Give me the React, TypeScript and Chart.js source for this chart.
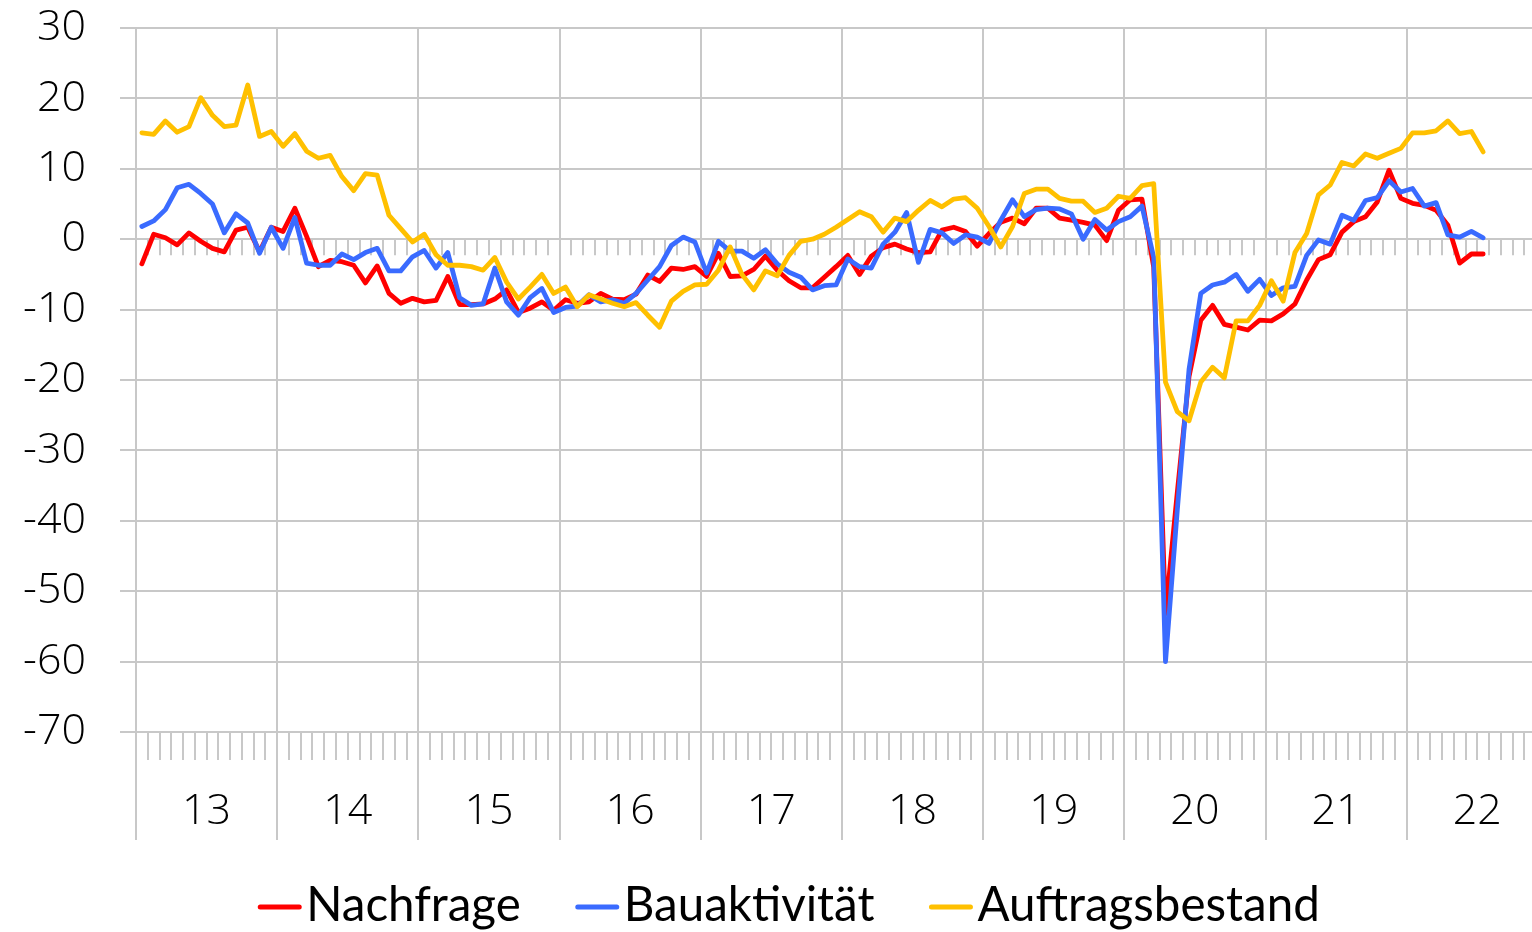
import React, { useEffect, useRef } from 'react';
import { Chart, registerables } from 'chart.js';

Chart.register(...registerables);

// Year labels on the x axis (2013 .. 2022)
const yearLabels = ['13', '14', '15', '16', '17', '18', '19', '20', '21', '22'];

// Monthly values, Jan 2013 .. Jul 2022
const nachfrage = [
  -3.5, 0.7, 0.2, -0.8, 0.9, -0.3, -1.3, -1.8, 1.3, 1.7, -1.8, 1.7,
  1.1, 4.4, 0.4, -3.9, -3.0, -3.2, -3.7, -6.2, -3.8, -7.7, -9.1, -8.4,
  -8.9, -8.7, -5.3, -9.3, -9.3, -9.2, -8.5, -7.2, -10.4, -9.8, -8.9, -10.1,
  -8.6, -9.1, -8.9, -7.7, -8.5, -8.6, -7.8, -5.1, -6.0, -4.1, -4.3, -3.9,
  -5.3, -2.0, -5.3, -5.2, -4.3, -2.4, -4.4, -5.9, -6.9, -6.9, -5.4, -3.9,
  -2.3, -5.0, -2.4, -1.2, -0.7, -1.4, -1.9, -1.8, 1.3, 1.7, 1.1, -1.0,
  0.8, 2.4, 3.0, 2.2, 4.4, 4.4, 3.0, 2.7, 2.4, 2.0, -0.2, 4.1,
  5.6, 5.7, -4.0, -53.2, -36.0, -19.5, -11.5, -9.4, -12.1, -12.5, -12.9, -11.5,
  -11.6, -10.6, -9.2, -5.8, -2.9, -2.2, 1.0, 2.5, 3.2, 5.3, 9.8, 5.8,
  5.1, 4.8, 4.1, 2.0, -3.4, -2.1, -2.1,
];

const bauaktivitaet = [
  1.8, 2.6, 4.2, 7.3, 7.8, 6.5, 5.0, 0.9, 3.6, 2.3, -2.0, 1.7,
  -1.3, 3.1, -3.4, -3.7, -3.7, -2.1, -2.9, -1.9, -1.3, -4.5, -4.5, -2.5,
  -1.6, -4.1, -1.9, -8.3, -9.4, -9.2, -4.1, -8.9, -10.8, -8.3, -7.0, -10.4,
  -9.7, -9.5, -7.9, -8.9, -8.6, -9.1, -7.7, -5.8, -3.9, -0.9, 0.3, -0.4,
  -4.8, -0.3, -1.7, -1.7, -2.7, -1.5, -3.5, -4.7, -5.4, -7.2, -6.6, -6.5,
  -2.8, -3.9, -4.1, -0.7, 1.0, 3.8, -3.3, 1.4, 0.9, -0.6, 0.6, 0.3,
  -0.6, 2.7, 5.6, 3.2, 4.2, 4.4, 4.3, 3.6, 0.0, 2.8, 1.3, 2.5,
  3.2, 4.7, -2.6, -60.0, -38.5, -18.5, -7.7, -6.5, -6.1, -5.0, -7.4, -5.7,
  -8.0, -6.9, -6.7, -2.3, -0.1, -0.7, 3.4, 2.7, 5.5, 5.9, 8.3, 6.7,
  7.2, 4.7, 5.2, 0.6, 0.3, 1.1, 0.2,
];

const auftragsbestand = [
  15.1, 14.9, 16.8, 15.2, 16.0, 20.1, 17.6, 16.0, 16.2, 21.9, 14.6, 15.3,
  13.2, 15.0, 12.5, 11.5, 11.9, 8.9, 6.9, 9.3, 9.1, 3.4, 1.5, -0.4,
  0.7, -2.2, -3.7, -3.7, -3.9, -4.4, -2.6, -6.1, -8.5, -6.8, -5.0, -7.7,
  -6.8, -9.6, -7.9, -8.5, -9.1, -9.6, -9.0, -10.8, -12.5, -8.8, -7.4, -6.5,
  -6.4, -4.4, -1.1, -5.0, -7.2, -4.5, -5.2, -2.3, -0.3, 0.0, 0.7, 1.7,
  2.8, 3.9, 3.2, 1.0, 3.0, 2.5, 4.1, 5.5, 4.6, 5.7, 5.9, 4.4,
  1.8, -1.1, 1.8, 6.5, 7.1, 7.1, 5.8, 5.4, 5.4, 3.8, 4.4, 6.1,
  5.8, 7.6, 7.9, -20.3, -24.5, -25.8, -20.3, -18.2, -19.7, -11.6, -11.6, -9.4,
  -5.9, -8.8, -1.9, 0.8, 6.3, 7.7, 10.9, 10.4, 12.1, 11.5, 12.2, 12.9,
  15.1, 15.1, 15.4, 16.8, 15.0, 15.3, 12.4,
];

const seriesNames = ['Nachfrage', 'Bauaktivität', 'Auftragsbestand'];
const seriesValues = [nachfrage, bauaktivitaet, auftragsbestand];
const seriesColors = ['#ff0000', '#3a6bff', '#ffc000'];

const yMin = -70;
const yMax = 30;
const yStep = 10;
const monthsPerYear = 12;
const visibleMonths = 118.65;

const GRID = '#c8c8c8';
const tickFont = { family: '"Open Sans", "Noto Sans", sans-serif', size: 43, weight: '300' as any };

const monthTicksPlugin = {
  id: 'monthTicks',
  beforeDatasetsDraw(chart: any) {
    const { ctx, scales } = chart;
    const xs = scales.x;
    const ys = scales.y;
    const yZero = ys.getPixelForValue(0);
    const yBottom = ys.getPixelForValue(yMin);
    ctx.save();
    ctx.strokeStyle = GRID;
    ctx.lineWidth = 2;
    ctx.beginPath();
    for (let m = 1; m < visibleMonths; m++) {
      if (m % monthsPerYear === 0) continue;
      const px = Math.round(xs.getPixelForValue(m));
      ctx.moveTo(px, yZero);
      ctx.lineTo(px, yZero + 16);
      ctx.moveTo(px, yBottom);
      ctx.lineTo(px, yBottom + 28);
    }
    ctx.stroke();
    ctx.restore();
  },
};

const legendPlugin = {
  id: 'customLegend',
  afterDraw(chart: any) {
    const { ctx } = chart;
    ctx.save();
    ctx.font = '47.5px Lato, "Open Sans", sans-serif';
    const lineLen = 43;
    const gapText = 5;
    const gapItem = 55;
    const ds = chart.data.datasets;
    const widths = ds.map((d: any) => ctx.measureText(d.label).width);
    const total =
      widths.reduce((a: number, w: number) => a + lineLen + gapText + w, 0) +
      gapItem * (widths.length - 1);
    let x = 789 - total / 2;
    const y = 907;
    ds.forEach((d: any, i: number) => {
      ctx.strokeStyle = d.borderColor;
      ctx.lineWidth = 5;
      ctx.lineCap = 'round';
      ctx.beginPath();
      ctx.moveTo(x + 2, y);
      ctx.lineTo(x + lineLen - 2, y);
      ctx.stroke();
      ctx.fillStyle = '#000';
      ctx.textBaseline = 'middle';
      ctx.textAlign = 'left';
      ctx.fillText(d.label, x + lineLen + gapText, y - 1);
      x += lineLen + gapText + widths[i] + gapItem;
    });
    ctx.restore();
  },
};

export default function App() {
  const canvasRef = useRef<HTMLCanvasElement | null>(null);

  useEffect(() => {
    const canvas = canvasRef.current;
    if (!canvas) return;
    const chart = new Chart(canvas, {
      type: 'line',
      data: {
        datasets: seriesNames.map((name, s) => ({
          label: name,
          data: seriesValues[s].map((v, i) => ({ x: i + 0.5, y: v })),
          borderColor: seriesColors[s],
          backgroundColor: seriesColors[s],
          borderWidth: 4.8,
          pointRadius: 0,
          tension: 0,
          fill: false,
          borderJoinStyle: 'round',
          borderCapStyle: 'round',
          order: seriesNames.length - s,
        })),
      },
      options: {
        responsive: false,
        animation: false,
        events: [],
        layout: { padding: { top: 28, left: 0, right: 0, bottom: 0 } },
        plugins: {
          legend: { display: false },
          tooltip: { enabled: false },
        },
        scales: {
          x: {
            type: 'linear',
            min: 0,
            max: visibleMonths,
            afterBuildTicks: (s: any) => {
              s.ticks = yearLabels.map((_, k) => ({ value: k * monthsPerYear + monthsPerYear / 2 }));
            },
            afterFit: (s: any) => {
              s.height = 200;
              s.paddingLeft = 0;
              s.paddingRight = 0;
            },
            border: { display: false },
            grid: {
              offset: true,
              color: GRID,
              lineWidth: 2,
              drawTicks: true,
              tickLength: 108,
              tickColor: GRID,
            },
            ticks: {
              autoSkip: false,
              maxRotation: 0,
              minRotation: 0,
              padding: -54,
              color: '#000',
              font: tickFont,
              callback: (_v: any, idx: number) => yearLabels[idx],
            },
          },
          y: {
            min: yMin,
            max: yMax,
            afterFit: (s: any) => {
              s.width = 136;
              s.paddingTop = 20;
              s.paddingBottom = 20;
            },
            border: { display: false },
            grid: { color: GRID, lineWidth: 2, tickLength: 16, tickColor: GRID },
            ticks: {
              stepSize: yStep,
              padding: 34,
              color: '#000',
              font: tickFont,
            },
          },
        },
      } as any,
      plugins: [monthTicksPlugin, legendPlugin],
    });
    return () => chart.destroy();
  }, []);

  return (
    <div style={{ position: 'fixed', left: 0, top: 0, width: 1532, height: 932, background: '#fff' }}>
      <canvas ref={canvasRef} width={1532} height={932} style={{ display: 'block', width: 1532, height: 932 }} />
    </div>
  );
}
